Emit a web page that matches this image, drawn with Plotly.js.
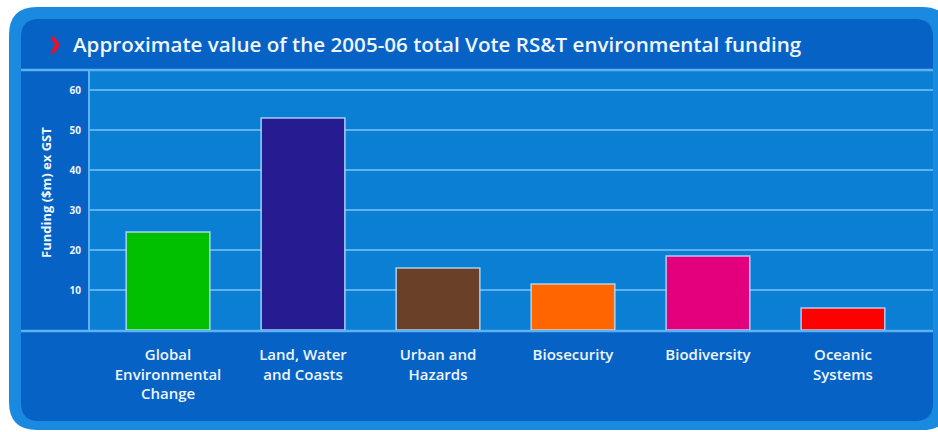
<!DOCTYPE html>
<html>
<head>
<meta charset="utf-8">
<script src="https://cdn.plot.ly/plotly-3.0.1.min.js"></script>
<style>html,body{margin:0;padding:0;background:#fff;}#chart{width:938px;height:432px;}</style>
</head>
<body>
<div id="chart"></div>
<script>
// ---- data ----
const categories = [
  "Global<br>Environmental<br>Change",
  "Land, Water<br>and Coasts",
  "Urban and<br>Hazards",
  "Biosecurity",
  "Biodiversity",
  "Oceanic<br>Systems"
];
const values = [24.5, 53, 15.5, 11.5, 18.5, 5.5];
const barColors = ["#00c000", "#261c92", "#6b4028", "#ff6600", "#e2007c", "#ff0000"];
const yTickVals = [10, 20, 30, 40, 50, 60];
const yTickText = ["10", "20", "30", "40", "50", "60"];
const titleText = "Approximate value of the 2005-06 total Vote RS&T environmental funding";
const yTitleText = "Funding ($m) ex GST";

// ---- geometry helpers (pixel -> paper) ----
const W = 938, H = 432;
const L = 90, R = 933, T = 70, B = 330;
const px = x => (x - L) / (R - L);
const py = y => (B - y) / (B - T);
function rr(x0, y0, x1, y1, r) {
  return `M ${px(x0 + r)},${py(y0)} L ${px(x1 - r)},${py(y0)} Q ${px(x1)},${py(y0)} ${px(x1)},${py(y0 + r)} ` +
         `L ${px(x1)},${py(y1 - r)} Q ${px(x1)},${py(y1)} ${px(x1 - r)},${py(y1)} ` +
         `L ${px(x0 + r)},${py(y1)} Q ${px(x0)},${py(y1)} ${px(x0)},${py(y1 - r)} ` +
         `L ${px(x0)},${py(y0 + r)} Q ${px(x0)},${py(y0)} ${px(x0 + r)},${py(y0)} Z`;
}
function rect(x0, y0, x1, y1, color) {
  return {type: 'rect', xref: 'paper', yref: 'paper', x0: px(x0), x1: px(x1), y0: py(y1), y1: py(y0),
          fillcolor: color, line: {width: 0}, layer: 'below'};
}
function hline(x0, x1, y, color, w) {
  return {type: 'line', xref: 'paper', yref: 'paper', x0: px(x0), x1: px(x1), y0: py(y), y1: py(y),
          line: {color: color, width: w}, layer: 'below'};
}
function vline(x, y0, y1, color, w) {
  return {type: 'line', xref: 'paper', yref: 'paper', x0: px(x), x1: px(x), y0: py(y0), y1: py(y1),
          line: {color: color, width: w}, layer: 'below'};
}

const lineCol = '#5cb2f2';
const textCol = '#eef6ff';
const fam = '"Open Sans", sans-serif';
const shapes = [
  {type: 'path', xref: 'paper', yref: 'paper', path: rr(9, 7, 950, 430, 28), fillcolor: '#1a8ae0', line: {width: 0}, layer: 'below'},
  {type: 'path', xref: 'paper', yref: 'paper', path: rr(21, 19, 933, 421, 18), fillcolor: '#0762c6', line: {width: 0}, layer: 'below'},
  rect(L, T, R, B, '#0a7fd3'),
  hline(21, R, T, lineCol, 2.5),
  hline(21, R, B + 1, lineCol, 2.5),
  vline(L - 1, T, B + 1, lineCol, 2),
  // red chevron before the title
  {type: 'path', xref: 'paper', yref: 'paper',
   path: `M ${px(50)},${py(37)} L ${px(55)},${py(37)} L ${px(60)},${py(45)} L ${px(55)},${py(53)} L ${px(50)},${py(53)} L ${px(55)},${py(45)} Z`,
   fillcolor: '#e8102a', line: {width: 0}, layer: 'above'}
];

const trace = {
  type: 'bar',
  x: categories,
  y: values,
  marker: {color: barColors, line: {color: 'rgba(190,225,255,0.85)', width: 1.5}},
  hoverinfo: 'skip'
};

const layout = {
  width: W, height: H,
  margin: {l: L, r: W - R, t: T, b: H - B, pad: 0},
  paper_bgcolor: '#ffffff',
  plot_bgcolor: 'rgba(0,0,0,0)',
  showlegend: false,
  bargap: 0.38,
  title: {
    text: titleText,
    xref: 'container', yref: 'container',
    x: 73 / W, y: 1 - 45 / H, xanchor: 'left', yanchor: 'middle',
    font: {family: fam, size: 20.6, color: textCol, weight: 600}
  },
  xaxis: {
    type: 'category',
    range: [-0.578, 5.667],
    showgrid: false, zeroline: false, showline: false,
    ticks: '',
    ticklabelstandoff: 14,
    tickfont: {family: fam, size: 15, color: textCol, weight: 600},
    fixedrange: true
  },
  yaxis: {
    range: [0, 65],
    tickvals: yTickVals, ticktext: yTickText,
    showgrid: true, gridcolor: lineCol, gridwidth: 2,
    zeroline: false, showline: false, ticks: '',
    ticklabelstandoff: 8,
    tickfont: {family: fam, size: 10, color: textCol, weight: 'bold'},
    fixedrange: true
  },
  annotations: [{
    text: yTitleText,
    xref: 'paper', yref: 'paper',
    x: px(46), y: py(193), xanchor: 'center', yanchor: 'middle',
    textangle: -90, showarrow: false,
    font: {family: fam, size: 13, color: textCol, weight: 'bold'}
  }],
  shapes: shapes
};

Plotly.newPlot('chart', [trace], layout, {displayModeBar: false, staticPlot: true});
</script>
</body>
</html>
